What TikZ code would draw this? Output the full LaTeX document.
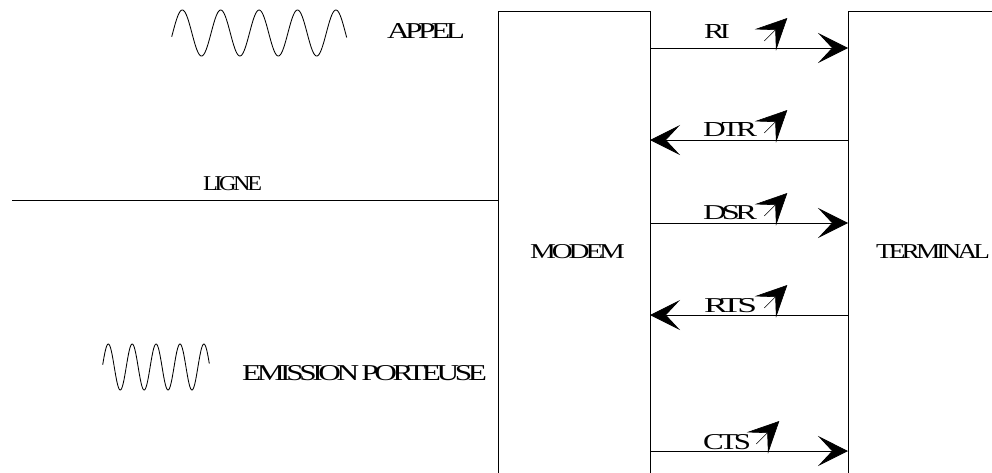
\documentclass[tikz,border=0pt]{standalone}
\usepackage{fontspec}
\setmainfont{Liberation Serif}
\newfontfamily\lblfont[LetterSpace=-14,WordSpace=0.6]{Liberation Serif}
\usetikzlibrary{arrows.meta}
\newcommand{\lbltext}[3]{\resizebox{#1pt}{#2pt}{\lblfont #3}}
\tikzset{
  box/.style={draw=black,line width=0.8pt,rectangle,inner sep=0pt,outer sep=0pt,anchor=north west},
  lbl/.style={inner sep=0pt,outer sep=0pt,anchor=north west,text=black},
  wire/.style={line width=0.8pt,draw=black},
  bigarrow/.style={wire,-{Stealth[length=30pt,width=30pt,inset=14pt]}},
  tune/.style={draw=black,line width=0.6pt,-{Stealth[length=31pt,width=30pt,inset=14pt]}},
  wave/.style={draw=black,line width=0.85pt,smooth}
}
\begin{document}
\begin{tikzpicture}[x=1pt,y=-1pt]
\useasboundingbox (0,0) rectangle (992,472);
\clip (0,0) rectangle (992,472);
% boxes
\node[box,minimum width=152pt,minimum height=500pt] (modem) at (498,11) {};
\node[box,minimum width=200pt,minimum height=500pt] (terminal) at (848,11) {};
% labels
\node[lbl] (appel) at (387,23) {\lbltext{78}{15}{APPEL}};
\node[lbl] (ligne) at (203,176) {\lbltext{59}{14}{LIGNE}};
\node[lbl] (modemtxt) at (530,244) {\lbltext{95}{14}{MODEM}};
\node[lbl] (termtxt) at (876,244) {\lbltext{114}{14}{TERMINAL}};
\node[lbl] (emission) at (242,365) {\lbltext{245}{15}{EMISSION PORTEUSE}};
\node[lbl] (ri) at (704,24) {\lbltext{26}{14}{RI}};
\node[lbl] (dtr) at (703,122) {\lbltext{54}{14}{DTR}};
\node[lbl] (dsr) at (703,205) {\lbltext{54}{14}{DSR}};
\node[lbl] (rts) at (704,298) {\lbltext{53}{14}{RTS}};
\node[lbl] (cts) at (703,434) {\lbltext{48}{15}{CTS}};
% line
\coordinate (lineend) at (12,200);
\coordinate (linemodem) at (498,200);
\draw[wire] (lineend) -- (linemodem);
% signal connectors
\foreach \nm/\yy/\ox in {ri/48/0,dtr/140/0,dsr/223/0,rts/315/0,cts/451/-8}{
  \coordinate (\nm M) at (650,\yy);
  \coordinate (\nm T) at (848,\yy);
  \coordinate (\nm A) at ({764.3+\ox},{\yy-7});
  \coordinate (\nm B) at ({787.3+\ox},{\yy-30});
  \draw[tune] (\nm A) -- (\nm B);
}
\draw[bigarrow] (riM) -- (riT);
\draw[bigarrow] (dtrT) -- (dtrM);
\draw[bigarrow] (dsrM) -- (dsrT);
\draw[bigarrow] (rtsT) -- (rtsM);
\draw[bigarrow] (ctsM) -- (ctsT);
% waves
\draw[wave] plot[domain=171.7:346.7,samples=240] (\x,{33-23*cos((\x-182.3)/38.4*360)});
\draw[wave] plot[domain=102.7:209.3,samples=200] (\x,{367-23*cos((\x-108.3)/23.9*360)});
\end{tikzpicture}
\end{document}
